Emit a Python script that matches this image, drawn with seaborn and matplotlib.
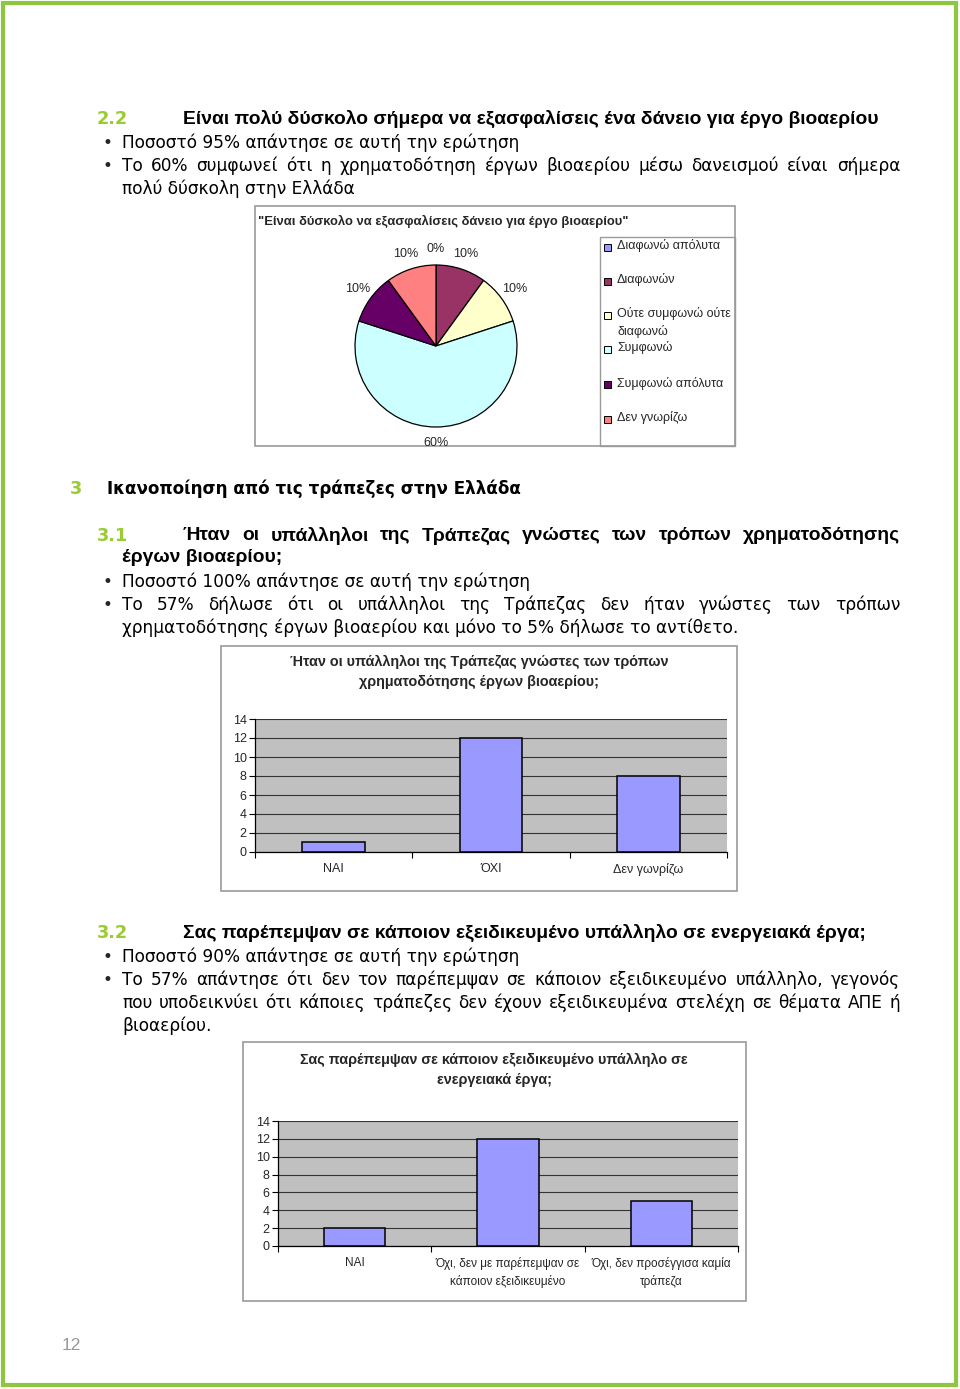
import matplotlib
matplotlib.use("Agg")
import matplotlib.pyplot as plt
import seaborn as sns
import pandas as pd
from matplotlib.patches import Rectangle

# ---------------- data ----------------
pie_labels = ["Διαφωνώ απόλυτα", "Διαφωνών", "Ούτε συμφωνώ ούτε\nδιαφωνώ",
              "Συμφωνώ", "Συμφωνώ απόλυτα", "Δεν γνωρίζω"]
pie_values = [0, 10, 10, 60, 10, 10]
pie_colors = ["#9999FF", "#993366", "#FFFFCC", "#CCFFFF", "#660066", "#FF8080"]
pie_title = "\"Είναι δύσκολο να εξασφαλίσεις δάνειο για έργο βιοαερίου\""

bar1_cats = ["ΝΑΙ", "ΌΧΙ", "Δεν γωνρίζω"]
bar1_vals = [1, 12, 8]
bar1_title = "Ήταν οι υπάλληλοι της Τράπεζας γνώστες των τρόπων\nχρηματοδότησης έργων βιοαερίου;"

bar2_cats = ["ΝΑΙ", "Όχι, δεν με παρέπεμψαν σε\nκάποιον εξειδικευμένο",
             "Όχι, δεν προσέγγισα καμία\nτράπεζα"]
bar2_vals = [2, 12, 5]
bar2_title = "Σας παρέπεμψαν σε κάποιον εξειδικευμένο υπάλληλο σε\nενεργειακά έργα;"

y_ticks = [0, 2, 4, 6, 8, 10, 12, 14]
page_number = "12"

# ---------------- setup ----------------
sns.set_theme(style="white")
plt.rcParams["font.family"] = ["DejaVu Sans"]

W, H, DPI = 960, 1389, 100
fig = plt.figure(figsize=(W / DPI, H / DPI), dpi=DPI)
fig.patch.set_facecolor("white")

page = fig.add_axes([0, 0, 1, 1])
page.set_xlim(0, W)
page.set_ylim(H, 0)
page.axis("off")

GREEN = "#99CC33"
BORDER = "#8DC63F"
BODY = "DejaVu Sans"
HEAD = "Liberation Sans"
CHART = "Liberation Sans"

page.add_patch(Rectangle((3, 3), W - 7, H - 7, fill=False, edgecolor=BORDER, lw=3))

renderer = fig.canvas.get_renderer()


def width_of(s, size, weight="normal", family=BODY):
    t = page.text(0, 0, s, fontsize=size, fontweight=weight, family=family)
    w = t.get_window_extent(renderer).width
    t.remove()
    return w


def fit(s, target, weight="normal", family=BODY):
    return 10 * target / width_of(s, 10, weight, family)


body_size = fit("Ποσοστό 95% απάντησε σε αυτή την ερώτηση", 398)
head_size = fit("Είναι πολύ δύσκολο σήμερα να εξασφαλίσεις ένα δάνειο για έργο βιοαερίου", 694, "bold", HEAD)
sec_size = fit("Ικανοποίηση από τις τράπεζες στην Ελλάδα", 414, "bold", BODY)
num_size = head_size * 0.92


def line(x0, y, s, size, weight="normal", x1=None, color="black", family=BODY):
    if x1 is None:
        page.text(x0, y, s, fontsize=size, fontweight=weight, color=color,
                  family=family, va="center", ha="left")
        return
    words = s.split(" ")
    ws = [width_of(w, size, weight, family) for w in words]
    gap = (x1 - x0 - sum(ws)) / (len(words) - 1)
    x = x0
    for w, wd in zip(words, ws):
        page.text(x, y, w, fontsize=size, fontweight=weight, color=color,
                  family=family, va="center", ha="left")
        x += wd + gap


def bullet(y):
    page.text(107, y, "•", fontsize=body_size, va="center", ha="center", family=BODY)


# section 2.2
line(97, 119, "2.2", num_size, "bold", color=GREEN, family=BODY)
line(183, 119, "Είναι πολύ δύσκολο σήμερα να εξασφαλίσεις ένα δάνειο για έργο βιοαερίου", head_size, "bold", family=HEAD)
bullet(143); line(122, 143, "Ποσοστό 95% απάντησε σε αυτή την ερώτηση", body_size)
bullet(166); line(122, 166, "Το 60% συμφωνεί ότι η χρηματοδότηση έργων βιοαερίου μέσω δανεισμού είναι σήμερα", body_size, x1=900)
line(122, 189, "πολύ δύσκολη στην Ελλάδα", body_size)

# section 3
line(70, 489, "3", sec_size * 1.05, "bold", color=GREEN)
line(107, 489, "Ικανοποίηση από τις τράπεζες στην Ελλάδα", sec_size, "bold")
line(97, 536, "3.1", num_size, "bold", color=GREEN)
line(183, 536, "Ήταν οι υπάλληλοι της Τράπεζας γνώστες των τρόπων χρηματοδότησης", head_size, "bold", x1=900, family=HEAD)
line(122, 558, "έργων βιοαερίου;", head_size, "bold", family=HEAD)
bullet(582); line(122, 582, "Ποσοστό 100% απάντησε σε αυτή την ερώτηση", body_size)
bullet(605); line(122, 605, "Το 57% δήλωσε ότι οι υπάλληλοι της Τράπεζας δεν ήταν γνώστες των τρόπων", body_size, x1=900)
line(122, 628, "χρηματοδότησης έργων βιοαερίου και μόνο το 5% δήλωσε το αντίθετο.", body_size)

# section 3.2
line(97, 933, "3.2", num_size, "bold", color=GREEN)
line(183, 933, "Σας παρέπεμψαν σε κάποιον εξειδικευμένο υπάλληλο σε ενεργειακά έργα;", head_size, "bold", family=HEAD)
bullet(957); line(122, 957, "Ποσοστό 90% απάντησε σε αυτή την ερώτηση", body_size)
bullet(980); line(122, 980, "Το 57% απάντησε ότι δεν τον παρέπεμψαν σε κάποιον εξειδικευμένο υπάλληλο, γεγονός", body_size, x1=900)
line(122, 1003, "που υποδεικνύει ότι κάποιες τράπεζες δεν έχουν εξειδικευμένα στελέχη σε θέματα ΑΠΕ ή", body_size, x1=900)
line(122, 1026, "βιοαερίου.", body_size)

page.text(62, 1345, page_number, fontsize=12.5, color="#999999", va="center", ha="left", family=CHART)

# chart frames
for (x0, y0, x1, y1) in [(255, 206, 735, 446), (221, 646, 737, 891), (243, 1042, 746, 1301)]:
    page.add_patch(Rectangle((x0, y0), x1 - x0, y1 - y0, facecolor="white", edgecolor="#9A9A9A", lw=1.2))


def px_axes(x0, y0, x1, y1):
    return fig.add_axes([x0 / W, 1 - y1 / H, (x1 - x0) / W, (y1 - y0) / H])


# ---------------- pie chart ----------------
page.text(258, 221, pie_title, fontsize=9.4, fontweight="bold", family=CHART, va="center", ha="left")
axp = px_axes(355, 265, 517, 427)
wedges, _, autotexts = axp.pie(pie_values, colors=pie_colors, startangle=90, counterclock=False,
                               autopct="%.0f%%", pctdistance=1.2,
                               wedgeprops=dict(edgecolor="black", linewidth=0.9),
                               textprops=dict(fontsize=9, family=CHART))
axp.set_xlim(-1, 1)
axp.set_ylim(-1, 1)
axp.set_aspect("equal")

# legend box (Excel-style)
page.add_patch(Rectangle((600, 237), 135, 209, fill=False, edgecolor="#9A9A9A", lw=1))
leg_y = [247, 281, 315, 349, 384, 419]
for lab, col, ly in zip(pie_labels, pie_colors, leg_y):
    page.add_patch(Rectangle((604, ly - 3.5), 7, 7, facecolor=col, edgecolor="black", lw=0.7))
    page.text(617, ly - 7.5, lab, fontsize=9, family=CHART, va="top", ha="left", linespacing=1.4)


# ---------------- bar charts ----------------
def bar_chart(box, cats, vals, title, title_xy, label_size):
    ax = px_axes(*box)
    df = pd.DataFrame({"cat": cats, "val": vals})
    sns.barplot(data=df, x="cat", y="val", color="#9999FF", saturation=1,
                edgecolor="black", linewidth=1.1, width=0.4, ax=ax)
    ax.set_facecolor("#C0C0C0")
    ax.set_ylim(0, 14)
    ax.set_xlim(-0.5, len(cats) - 0.5)
    ax.set_yticks(y_ticks)
    ax.set_yticklabels([str(v) for v in y_ticks], fontsize=9, family=CHART)
    ax.set_xticklabels(cats, fontsize=label_size, family=CHART, linespacing=1.5)
    ax.yaxis.grid(True, color="#333333", lw=0.8)
    ax.xaxis.grid(False)
    ax.set_axisbelow(True)
    ax.set_xlabel("")
    ax.set_ylabel("")
    for s in ["top", "right"]:
        ax.spines[s].set_visible(False)
    for s in ["left", "bottom"]:
        ax.spines[s].set_visible(True)
        ax.spines[s].set_color("black")
        ax.spines[s].set_linewidth(0.9)
    ax.tick_params(axis="y", length=4, width=0.8, color="black", pad=2, left=True)
    ax.tick_params(axis="x", length=0, pad=8)
    ax.set_xticks([i - 0.5 for i in range(len(cats) + 1)], minor=True)
    ax.tick_params(axis="x", which="minor", length=4, width=0.8, color="black", bottom=True)
    page.text(title_xy[0], title_xy[1], title, fontsize=10.4, fontweight="bold", family=CHART,
              ha="center", va="top", linespacing=1.5)
    return ax


bar_chart((255, 719, 727, 852), bar1_cats, bar1_vals, bar1_title, (479, 655), 9)
bar_chart((278, 1121, 738, 1246), bar2_cats, bar2_vals, bar2_title, (494, 1053), 8.5)

fig.savefig("out.png", dpi=DPI, facecolor="white")
